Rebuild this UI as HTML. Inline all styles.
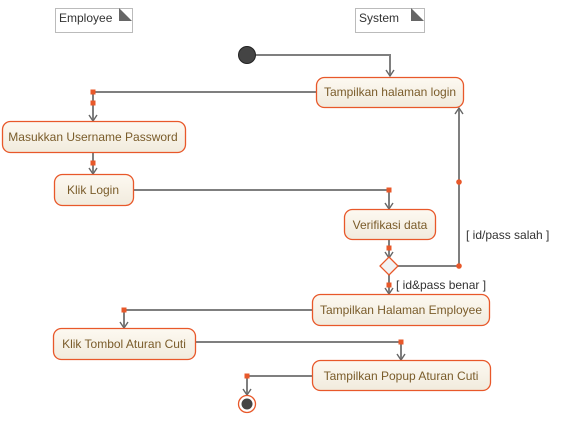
<!DOCTYPE html>
<html><head><meta charset="utf-8"><style>
html,body{margin:0;padding:0;background:#fff;width:561px;height:431px;overflow:hidden}
svg text{font-family:"Liberation Sans",sans-serif;font-size:12px}
.b{fill:url(#g);stroke:#e8582a;stroke-width:1.3}
.t{fill:#7a5c2a;text-anchor:middle}
.l{stroke:#7f7f7f;stroke-width:2;fill:none}
.a{stroke:#666;stroke-width:1.4;fill:none}
.d{fill:#e8582a}
</style></head><body>
<svg width="561" height="431" xmlns="http://www.w3.org/2000/svg">
<defs><linearGradient id="g" x1="0" y1="0" x2="0" y2="1"><stop offset="0" stop-color="#fdf9f1"/><stop offset="1" stop-color="#f1ebdd"/></linearGradient></defs>
<!-- notes -->
<path d="M55.5,8.5H132.5V32.5H55.5Z" fill="#fff" stroke="#bbb"/>
<path d="M119,8L132,21H119Z" fill="#666"/>
<text x="59" y="22" fill="#333">Employee</text>
<path d="M355.5,8.5H424.5V32.5H355.5Z" fill="#fff" stroke="#bbb"/>
<path d="M411,8L424,21H411Z" fill="#666"/>
<text x="359" y="22" fill="#333">System</text>
<!-- lines -->
<path class="l" d="M256,55H390V76"/>
<path class="l" d="M316,92H93V120"/>
<path class="l" d="M93,153V173"/>
<path class="l" d="M133,190H389V208"/>
<path class="l" d="M389,240V258"/>
<path class="l" d="M398,266H459V108"/>
<path class="l" d="M389,275V293"/>
<path class="l" d="M312,310H124V327"/>
<path class="l" d="M196,342H401V359"/>
<path class="l" d="M312,376H247V394"/>
<!-- arrowheads -->
<g class="a">
<path d="M386,70L390,76L394,70"/>
<path d="M89,115L93,121L97,115"/>
<path d="M89,168L93,174L97,168"/>
<path d="M385,203L389,209L393,203"/>
<path d="M385,252L389,258L393,252"/>
<path d="M455,114L459,108L463,114"/>
<path d="M385,288L389,294L393,288"/>
<path d="M120,322L124,328L128,322"/>
<path d="M397,354L401,360L405,354"/>
<path d="M243,389L247,395L251,389"/>
</g>
<!-- dots -->
<g class="d">
<rect x="90.5" y="89.5" width="5" height="5"/>
<rect x="90.5" y="100.5" width="5" height="5"/>
<rect x="90.5" y="160.5" width="5" height="5"/>
<rect x="386.5" y="187.5" width="5" height="5"/>
<rect x="386.5" y="245.5" width="5" height="5"/>
<circle cx="459" cy="266" r="2.8"/>
<circle cx="459" cy="182" r="2.8"/>
<rect x="386.5" y="282.5" width="5" height="5"/>
<rect x="121.5" y="307.5" width="5" height="5"/>
<rect x="398.5" y="339.5" width="5" height="5"/>
<rect x="244.5" y="373.5" width="5" height="5"/>
</g>
<!-- initial -->
<circle cx="247" cy="55" r="8.5" fill="#444" stroke="#222"/>
<!-- boxes -->
<rect class="b" x="316.5" y="77.5" width="147" height="30" rx="8"/>
<text class="t" x="390" y="96">Tampilkan halaman login</text>
<rect class="b" x="2.5" y="121.5" width="183" height="31" rx="8"/>
<text class="t" x="93" y="141">Masukkan Username Password</text>
<rect class="b" x="54.5" y="174.5" width="79" height="31" rx="8"/>
<text class="t" x="93" y="194">Klik Login</text>
<rect class="b" x="344.5" y="209.5" width="91" height="30" rx="8"/>
<text class="t" x="390" y="229">Verifikasi data</text>
<path d="M389,257L398,266L389,275L380,266Z" fill="#f3f3f3" stroke="#e8582a" stroke-width="1.3"/>
<text x="466" y="239" fill="#333">[ id/pass salah ]</text>
<text x="396" y="289" fill="#333">[ id&amp;pass benar ]</text>
<rect class="b" x="312.5" y="294.5" width="177" height="31" rx="8"/>
<text class="t" x="401" y="314">Tampilkan Halaman Employee</text>
<rect class="b" x="53.5" y="328.5" width="142" height="31" rx="8"/>
<text class="t" x="124" y="348">Klik Tombol Aturan Cuti</text>
<rect class="b" x="312.5" y="360.5" width="178" height="30" rx="8"/>
<text class="t" x="401" y="380">Tampilkan Popup Aturan Cuti</text>
<!-- final -->
<circle cx="247" cy="404" r="8.5" fill="#fff" stroke="#e8582a" stroke-width="1.3"/>
<circle cx="247" cy="404" r="5.5" fill="#444"/>
</svg>
</body></html>
